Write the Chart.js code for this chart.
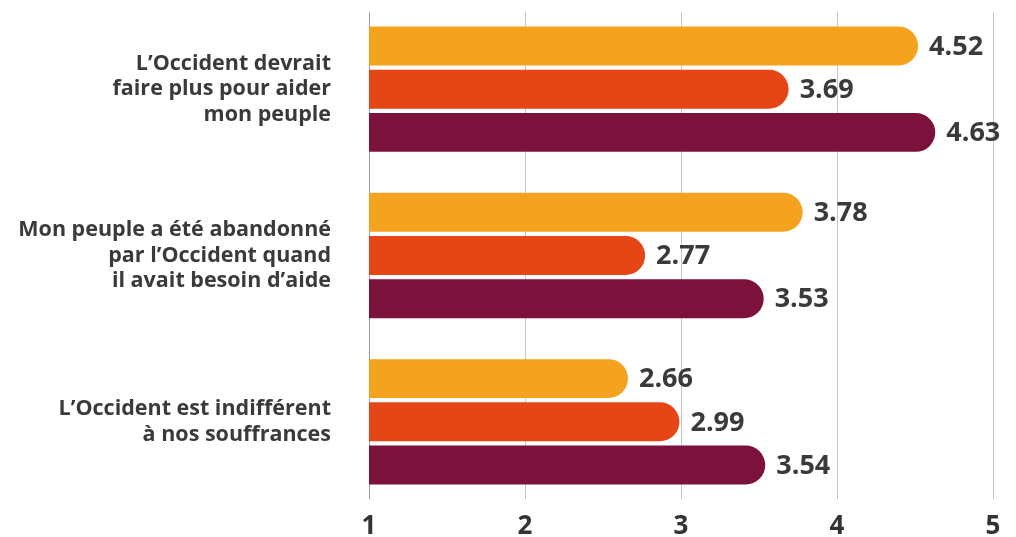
<!DOCTYPE html>
<html>
<head>
<meta charset="utf-8">
<style>
  html, body { margin: 0; padding: 0; background: #fff; }
  #wrap { width: 1016px; height: 537px; }
</style>
</head>
<body>
<div id="wrap"><canvas id="barChart"></canvas></div>
<script src="https://cdn.jsdelivr.net/npm/chart.js"></script>
<script>
const categories = [
  ['L\u2019Occident devrait', 'faire plus pour aider', 'mon peuple'],
  ['Mon peuple a été abandonné', 'par l\u2019Occident quand', 'il avait besoin d\u2019aide'],
  ['L\u2019Occident est indifférent', 'à nos souffrances']
];
const seriesA = [4.52, 3.78, 2.66];
const seriesB = [3.69, 2.77, 2.99];
const seriesC = [4.63, 3.53, 3.54];
const xTicks = [1, 2, 3, 4, 5];

const FONT = '"Open Sans", "Noto Sans", sans-serif';
const TEXT = '#3a3a3a';

// vertical grid lines, drawn behind the bars
const gridLines = {
  id: 'gridLines',
  beforeDatasetsDraw(chart) {
    const { ctx, scales: { x } } = chart;
    ctx.save();
    ctx.lineWidth = 1;
    xTicks.forEach((t, i) => {
      const px = Math.round(x.getPixelForValue(t)) + 0.5;
      ctx.strokeStyle = i === 0 ? '#9a9a9a' : '#c6c6c6';
      ctx.beginPath();
      ctx.moveTo(px, 12);
      ctx.lineTo(px, 499);
      ctx.stroke();
    });
    ctx.restore();
  }
};

// value labels at the end of each bar
const valueLabels = {
  id: 'valueLabels',
  afterDatasetsDraw(chart) {
    const { ctx } = chart;
    ctx.save();
    ctx.font = 'bold 27px ' + FONT;
    ctx.fillStyle = TEXT;
    ctx.textAlign = 'left';
    ctx.textBaseline = 'middle';
    chart.data.datasets.forEach((ds, i) => {
      chart.getDatasetMeta(i).data.forEach((bar, j) => {
        ctx.fillText(ds.data[j].toFixed(2), bar.x + 11, bar.y + 1);
      });
    });
    ctx.restore();
  }
};

const noPad = (s) => { s.paddingTop = 0; s.paddingBottom = 0; s.paddingLeft = 0; s.paddingRight = 0; };
const common = { categoryPercentage: 0.78, barPercentage: 0.9, borderRadius: 20, borderSkipped: 'start', base: 1 };

new Chart(document.getElementById('barChart'), {
  type: 'bar',
  data: {
    labels: categories,
    datasets: [
      { label: 'Série 1', data: seriesA, backgroundColor: '#f5a31e', ...common },
      { label: 'Série 2', data: seriesB, backgroundColor: '#e64516', ...common },
      { label: 'Série 3', data: seriesC, backgroundColor: '#7c123c', ...common }
    ]
  },
  options: {
    indexAxis: 'y',
    responsive: true,
    maintainAspectRatio: false,
    animation: false,
    layout: { padding: { top: 6, right: 23, bottom: 0, left: 0 } },
    plugins: { legend: { display: false }, tooltip: { enabled: false } },
    scales: {
      x: {
        min: 1, max: 5,
        afterBuildTicks: (s) => { s.ticks = xTicks.map(v => ({ value: v })); },
        afterFit: (s) => { noPad(s); s.height = 32; },
        grid: { display: false, drawTicks: false },
        border: { display: false },
        ticks: { color: '#333', padding: 9, maxRotation: 0, font: { family: FONT, size: 26, weight: 'bold', lineHeight: 0.95 } }
      },
      y: {
        afterFit: (s) => { noPad(s); s.width = 369; },
        grid: { display: false, drawTicks: false },
        border: { display: false },
        ticks: { color: TEXT, padding: 38, font: { family: FONT, size: 21.5, weight: 'bold', lineHeight: 1.19 } }
      }
    }
  },
  plugins: [gridLines, valueLabels]
});
</script>
</body>
</html>
